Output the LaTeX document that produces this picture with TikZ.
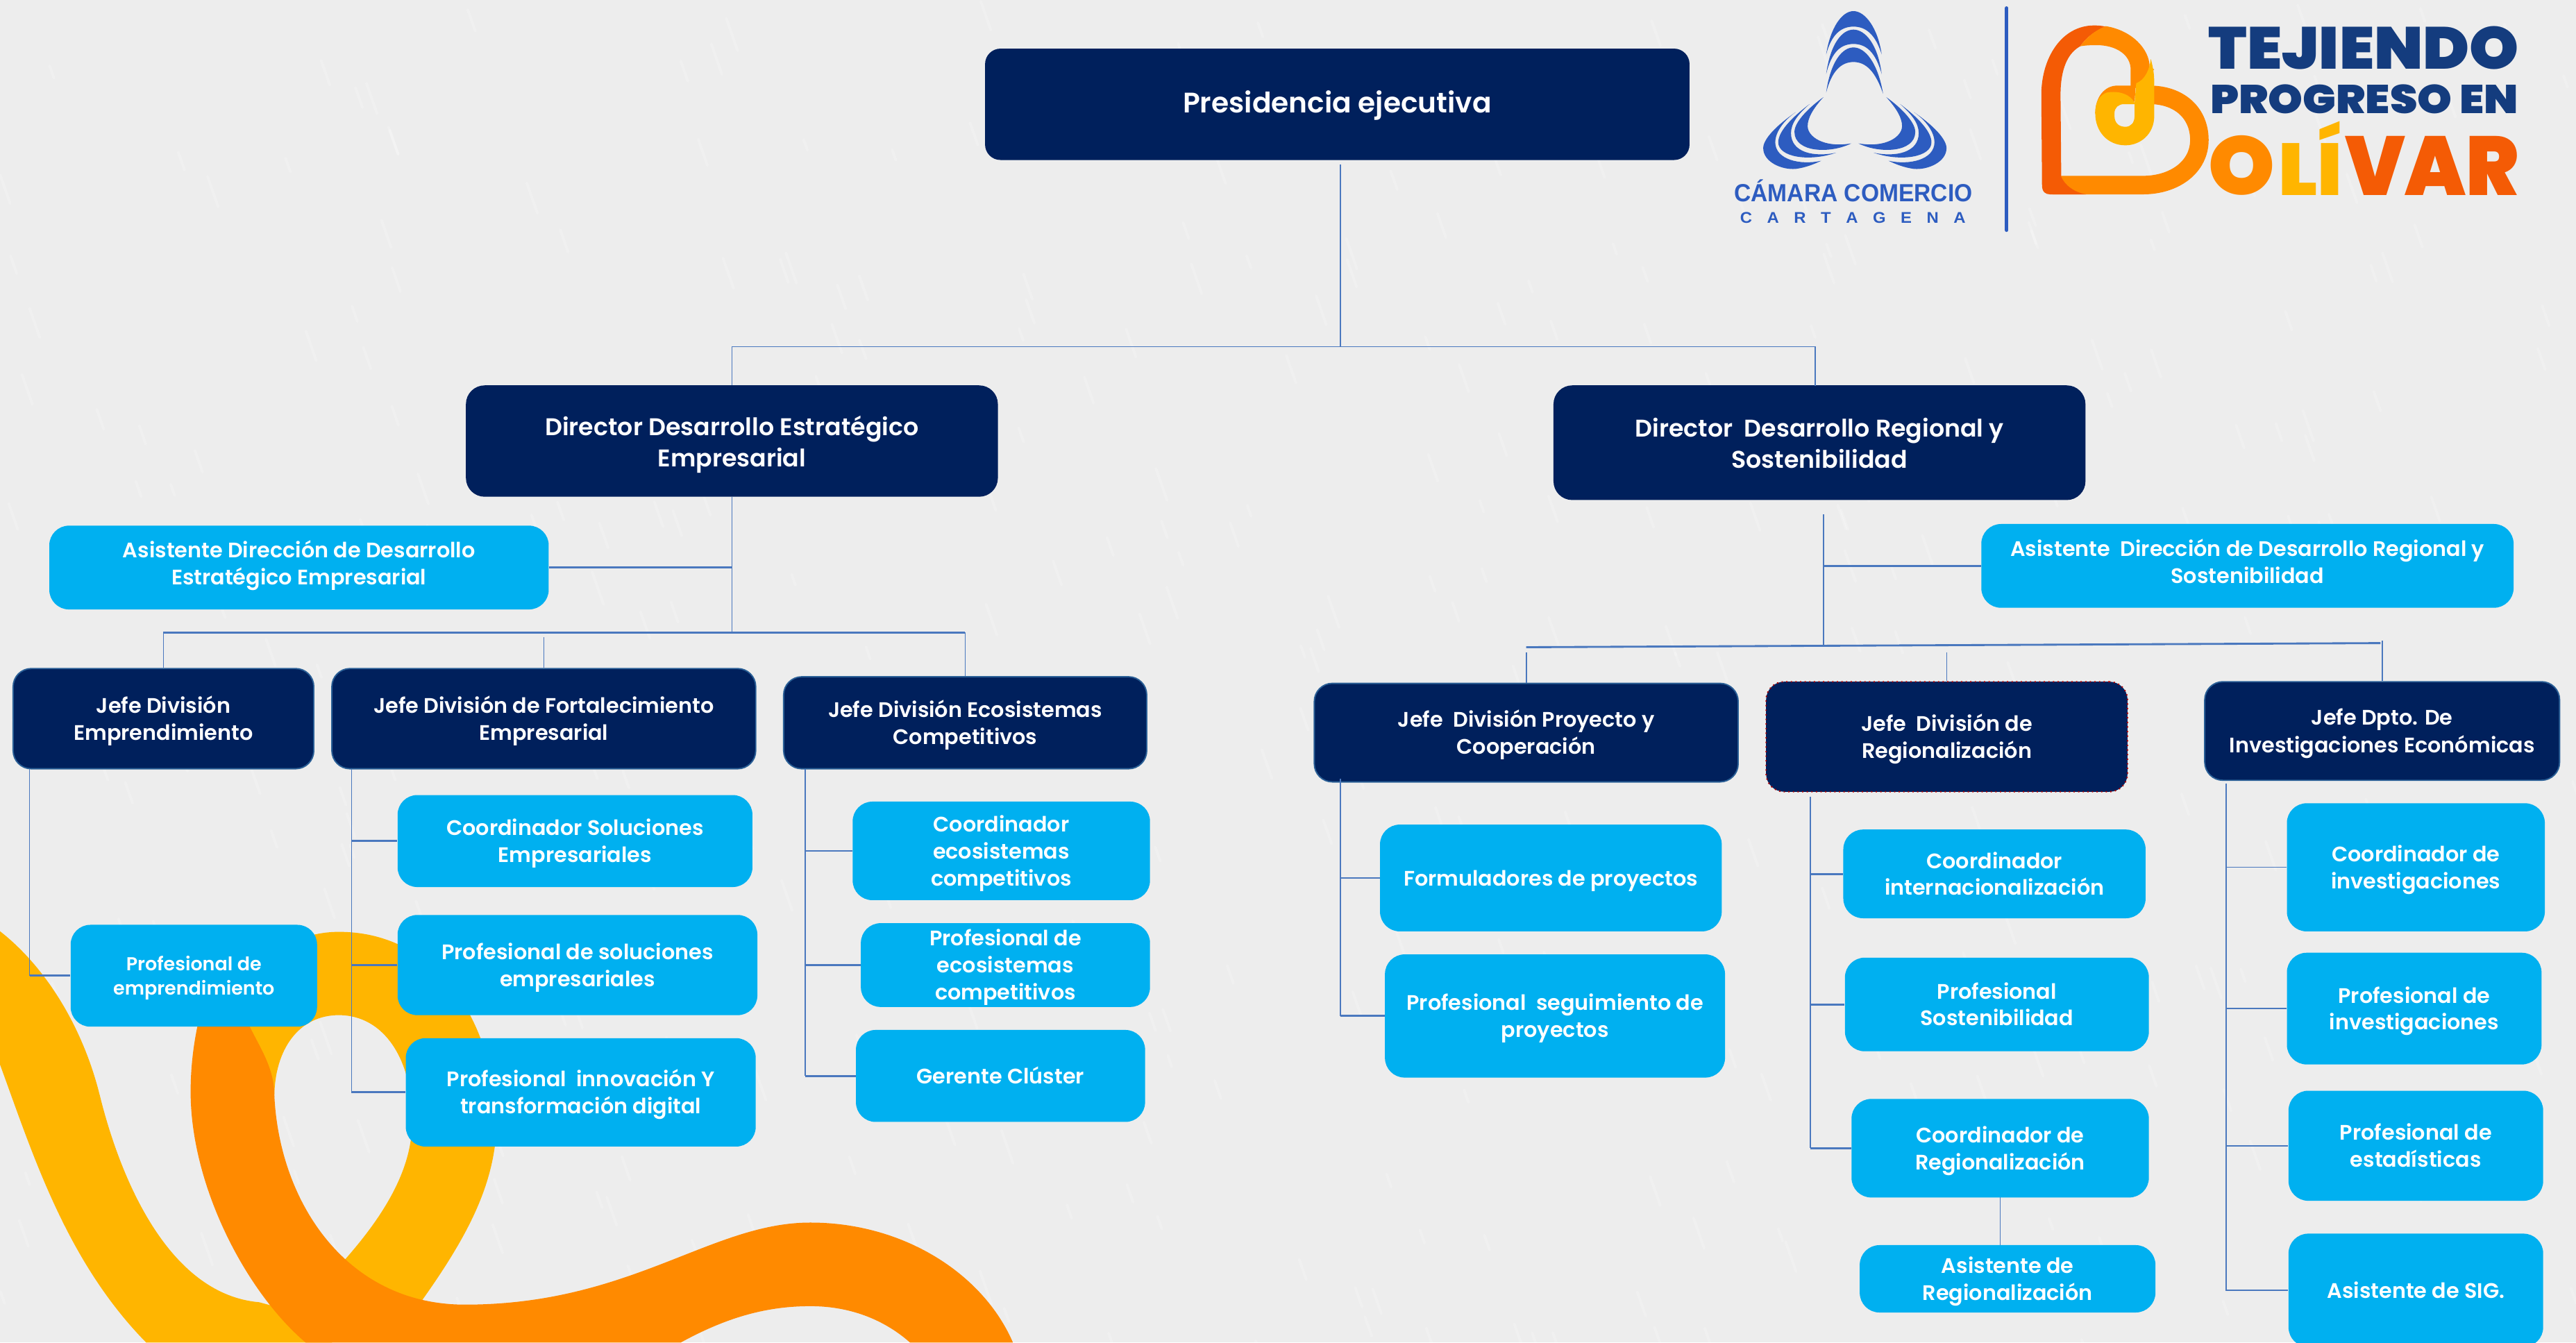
\documentclass[tikz,border=0pt]{standalone}
\usepackage{fontspec}
\setmainfont{Poppins}[UprightFont=* SemiBold,BoldFont=* Bold]
\newfontfamily\heavy{Poppins}[UprightFont=* Black]
\newfontfamily\arialb{Liberation Sans}[UprightFont=* Bold]
\definecolor{navy}{HTML}{00205C}
\definecolor{sky}{HTML}{00B0F0}
\definecolor{bgc}{HTML}{EDEDED}
\definecolor{lnk}{HTML}{4A78BE}
\definecolor{ambar}{HTML}{FFB500}
\definecolor{naran}{HTML}{FF8A00}
\definecolor{oscuro}{HTML}{F45B05}
\definecolor{logoa}{HTML}{2D5CC0}
\definecolor{tejido}{HTML}{143C7E}
\definecolor{jborde}{HTML}{2A5F96}
\tikzset{
 x=1pt,y=-1pt,
 dark/.style={rectangle,rounded corners=11pt,fill=navy,draw=jborde,line width=.8pt,text=white,inner sep=0pt,font=\fontsize{12.8}{16.6}\selectfont},
 light/.style={rectangle,rounded corners=12pt,fill=sky,text=white,inner sep=0pt,font=\fontsize{12.8}{16.4}\selectfont},
 big/.style={draw=navy,font=\fontsize{14.7}{19}\selectfont},
 huge/.style={draw=navy,rounded corners=9pt,font=\fontsize{17.2}{19}\selectfont},
 small/.style={font=\fontsize{11.4}{14.4}\selectfont},
 conn/.style={draw=lnk,line width=.7pt},
 connb/.style={draw=lnk,line width=1.2pt},
 logot/.style={inner sep=0pt,outer sep=0pt},
}
\newcommand\boxn[8][0]{%
 \node[#2,minimum width={(#6-#4)*1pt},minimum height={(#7-#5)*1pt}] (#3) at ({(#4+#6)/2},{(#5+#7)/2})
 {\raisebox{\dimexpr#1pt-0.25em-1.3pt\relax}[0pt][0pt]{\begin{tabular}{@{}c@{}}#8\end{tabular}}};}
\newcommand\kid[2]{\draw[conn] (#1) -- (#1 |- #2.west); \draw[connb] (#1 |- #2.west) -- (#2.west);}
\newcommand\kidt[2]{\draw[conn] (#1) |- (#2.west);}
% one side of the Camara logo: three crescents
\newcommand\lobeside{%
\fill[logoa] (440,420) .. controls (395,470) and (372,510) .. (372,545) .. controls (372,590) and (440,640) .. (560,620) .. controls (470,665) and (315,660) .. (315,570) .. controls (315,530) and (370,470) .. (440,420) -- cycle;
\fill[logoa] (495,660) .. controls (400,680) and (300,660) .. (300,575) .. controls (300,530) and (335,490) .. (380,450) .. controls (300,510) and (245,570) .. (245,615) .. controls (245,680) and (380,700) .. (495,660) -- cycle;
\fill[logoa] (430,695) .. controls (340,715) and (232,690) .. (232,615) .. controls (232,570) and (270,520) .. (320,485) .. controls (240,540) and (180,600) .. (180,640) .. controls (180,700) and (260,735) .. (320,730) .. controls (360,725) and (400,710) .. (430,695) -- cycle;
}
\begin{document}
\begin{tikzpicture}
\useasboundingbox (0,0) rectangle (1568,817.2);
\fill[bgc] (0,0) rectangle (1568,817.2);
% paper texture
\pgfmathsetseed{7}
\foreach \i in {1,...,420}{
  \pgfmathsetmacro\tx{rnd*1568}\pgfmathsetmacro\ty{rnd*817}\pgfmathsetmacro\tl{6+rnd*14}
  \draw[white,opacity=.22,line width=1.6pt,line cap=round] (\tx,\ty) -- ++(\tl*.35,\tl);
}
% ---------- decorative ribbons
\begin{scope}[shift={(0,528.2)},x=.4043pt,y=-.18435pt]
\fill[ambar] (0,210) .. controls (70,330) and (125,530) .. (150,750) .. controls (185,1060) and (260,1410) .. (390,1435)
  -- (500,1500) -- (500,1568) -- (220,1568) .. controls (100,1300) and (50,950) .. (0,650) -- cycle;
\fill[ambar] (635,1430) .. controls (700,1230) and (735,1080) .. (745,920) .. controls (760,600) and (680,212) .. (510,212)
  .. controls (400,212) and (320,450) .. (300,740) -- (413,760) .. controls (413,600) and (450,487) .. (510,487)
  .. controls (580,487) and (620,640) .. (620,820) .. controls (625,1000) and (570,1170) .. (515,1305) -- (480,1400) -- (620,1480) -- cycle;
\fill[naran] (330,300) .. controls (300,450) and (287,600) .. (287,740) .. controls (287,1050) and (370,1400) .. (460,1568)
  -- (1025,1568) .. controls (1090,1490) and (1150,1448) .. (1220,1448) .. controls (1285,1448) and (1335,1500) .. (1370,1568)
  -- (1525,1568) .. controls (1480,1340) and (1360,1172) .. (1220,1172) .. controls (1070,1172) and (950,1443) .. (700,1443)
  .. controls (520,1443) and (420,1100) .. (413,750) .. controls (413,660) and (390,590) .. (375,520) -- (370,300) -- cycle;
\end{scope}
% ---------- logo Camara (top lobe, two side lobes)
\begin{scope}[shift={(1047.9,0)},x=.14085pt,y=-.14085pt]
\fill[logoa] (452,235) .. controls (470,120) and (520,48) .. (570,48) .. controls (620,48) and (675,120) .. (692,235) .. controls (665,150) and (625,115) .. (570,115) .. controls (515,115) and (475,150) .. (452,235) -- cycle;
\fill[logoa] (452,320) .. controls (470,190) and (520,128) .. (570,128) .. controls (620,128) and (675,190) .. (692,320) .. controls (665,225) and (625,190) .. (570,190) .. controls (515,190) and (475,225) .. (452,320) -- cycle;
\fill[logoa] (452,400) .. controls (470,270) and (520,205) .. (570,205) .. controls (620,205) and (675,270) .. (698,405) .. controls (665,310) and (625,268) .. (570,268) .. controls (515,268) and (475,310) .. (452,400) -- cycle;
\lobeside
\begin{scope}[shift={(1152,0)},xscale=-1]\lobeside\end{scope}
\node[logot,text=logoa,anchor=north west] (camara) at (55,775) {\resizebox{145pt}{13.4pt}{\arialb CÁMARA COMERCIO}};
\node[logot,text=logoa,anchor=north west] (carta) at (80,918) {\resizebox{137.3pt}{6.6pt}{\arialb C\hspace{.9em}A\hspace{.9em}R\hspace{.9em}T\hspace{.9em}A\hspace{.9em}G\hspace{.9em}E\hspace{.9em}N\hspace{.9em}A}};
\end{scope}
% ---------- heart
\begin{scope}[shift={(1233.8,8.45)},x=.14085pt,y=-.14085pt]
\draw[naran,line width=11.27pt] (510,350) -- (530,350) .. controls (660,350) and (745,430) .. (745,545) .. controls (745,660) and (640,740) .. (500,740) -- (110,740);
\fill[oscuro] (350,57) .. controls (320,50) and (300,50) .. (290,50) .. controls (150,50) and (62,190) .. (62,350) -- (65,740) .. controls (65,770) and (80,780) .. (100,780) -- (255,780) .. controls (200,770) and (165,740) .. (148,705) -- (145,350) .. controls (145,240) and (175,170) .. (230,140) .. controls (265,90) and (310,65) .. (350,57) -- cycle;
\fill[naran] (340,53) .. controls (450,70) and (530,150) .. (530,230) -- (550,240) -- (470,320) -- (448,320) -- (448,240) .. controls (448,180) and (390,135) .. (300,135) .. controls (270,135) and (245,137) .. (230,140) .. controls (265,90) and (310,65) .. (340,53) -- cycle;
\fill[naran] (470,310) -- (390,310) .. controls (335,310) and (295,360) .. (295,430) -- (330,430) -- (345,345) -- (465,380) -- cycle;
\fill[ambar,even odd rule] (535,195) .. controls (545,230) and (550,260) .. (550,300) -- (550,440) .. controls (550,520) and (490,568) .. (425,568) .. controls (350,568) and (295,510) .. (295,430) .. controls (295,380) and (315,350) .. (345,340) .. controls (400,330) and (450,350) .. (465,385) -- (472,300) .. controls (510,285) and (530,240) .. (535,195) -- cycle
 (378,430) .. controls (378,405) and (395,390) .. (420,390) -- (465,390) -- (465,440) .. controls (465,470) and (450,488) .. (425,488) .. controls (395,488) and (378,470) .. (378,440) -- cycle;
\end{scope}
% ---------- divider and lettering
\begin{scope}[shift={(1014,0)},x=.3533pt,y=-.1408pt]
\coordinate (diva) at (587,35); \coordinate (divb) at (587,995);
\draw[logoa,line width=2.2pt,line cap=round] (diva) -- (divb);
\node[logot,text=tejido,anchor=north west] (tj) at (935,115) {\resizebox{189pt}{26pt}{\heavy TEJIENDO}};
\node[logot,text=tejido,anchor=north west] (pr) at (938,365) {\resizebox{187.5pt}{17.6pt}{\heavy PROGRESO EN}};
\node[logot,text=naran,anchor=south west] (bo) at (935,845) {\resizebox{40.5pt}{36pt}{\heavy O}};
\node[logot,text=ambar,anchor=south west] (bl) at (1055,845) {\resizebox{39pt}{45pt}{\heavy LÍ}};
\node[logot,text=oscuro,anchor=south west] (bv) at (1170,845) {\resizebox{106pt}{36pt}{\heavy VAR}};
\end{scope}
% ---------- nodes
\boxn{dark,huge}{pres}{600}{30}{1028}{97}{Presidencia ejecutiva}
\boxn[-1]{dark,big}{dirE}{284}{235}{607}{302}{Director Desarrollo Estratégico\\Empresarial}
\boxn[-1]{dark,big}{dirR}{946}{235}{1269}{304}{Director\ \ Desarrollo Regional y\\Sostenibilidad}
\boxn[2.5]{light}{asE}{30}{320}{334}{371}{Asistente Dirección de Desarrollo\\Estratégico Empresarial}
\boxn[2.5]{light}{asR}{1206}{319}{1530}{370}{Asistente\ \ Dirección de Desarrollo Regional y\\Sostenibilidad}
\boxn{dark}{jE}{8}{407}{191}{468}{Jefe División\\Emprendimiento}
\boxn{dark}{jF}{202}{407}{460}{468}{Jefe División de Fortalecimiento\\Empresarial}
\boxn{dark}{jC}{477}{412}{698}{468}{Jefe División Ecosistemas\\Competitivos}
\boxn{dark}{jP}{800}{416}{1058}{476}{Jefe\ \ División Proyecto y\\Cooperación}
\boxn{dark,draw=red!70!black,dotted}{jR}{1075}{415}{1295}{482}{Jefe\ \ División de\\Regionalización}
\boxn{dark}{jI}{1342}{415}{1558}{475}{Jefe Dpto. De\\Investigaciones Económicas}
\boxn{light,small}{pE}{43}{563}{193}{625}{Profesional de\\emprendimiento}
\boxn{light}{cS}{242}{484}{458}{540}{Coordinador Soluciones\\Empresariales}
\boxn{light}{pS}{242}{557}{461}{618}{Profesional de soluciones\\empresariales}
\boxn{light}{pN}{247}{632}{460}{698}{Profesional\ \ innovación Y\\transformación digital}
\boxn{light}{cC}{519}{488}{700}{548}{Coordinador\\ecosistemas\\competitivos}
\boxn{light}{pC}{524}{562}{700}{613}{Profesional de\\ecosistemas\\competitivos}
\boxn{light}{gC}{521}{627}{697}{683}{Gerente Clúster}
\boxn{light}{fP}{840}{502}{1048}{567}{Formuladores de proyectos}
\boxn{light}{sP}{843}{581}{1050}{656}{Profesional\ \ seguimiento de\\proyectos}
\boxn{light}{cI}{1122}{505}{1306}{559}{Coordinador\\internacionalización}
\boxn{light}{pO}{1123}{583}{1308}{640}{Profesional\\Sostenibilidad}
\boxn{light}{cR}{1127}{669}{1308}{729}{Coordinador de\\Regionalización}
\boxn{light}{aR}{1132}{758}{1312}{799}{Asistente de\\Regionalización}
\boxn{light}{cV}{1392}{489}{1549}{567}{Coordinador de\\investigaciones}
\boxn{light}{pV}{1392}{580}{1547}{648}{Profesional de\\investigaciones}
\boxn{light}{pT}{1393}{664}{1548}{731}{Profesional de\\estadísticas}
\boxn{light}{aG}{1393}{751}{1548}{820}{Asistente de SIG.}
% ---------- connectors
\coordinate (t0) at (816,100); \coordinate (t1) at (816,211); \coordinate (dRn) at (1105,235);
\draw[conn] (t0) -- (t1);
\draw[conn] (dirE.north) |- (t1) -| (dRn);
\coordinate (l1) at (445.5,385);
\draw[conn] (dirE.south) -- (l1);
\draw[connb] (asE.east) -- (asE.east -| dirE.south);
\draw[connb] (jE.north |- l1) -- (jC.north |- l1);
\draw[conn] (jE.north) -- (jE.north |- l1);
\coordinate (l2) at (331,388);
\draw[conn] (jF.north) -- (l2);
\draw[conn] (jC.north) -- (jC.north |- l1);
\coordinate (r0) at (1110,313); \coordinate (r1) at (1110,392.5);
\draw[conn] (r0) -- (r1);
\draw[connb] (r1 |- asR.west) -- (asR.west);
\coordinate (rh1) at (929,394); \coordinate (rh2) at (1449,391.5);
\draw[connb] (rh1) -- (rh2);
\coordinate (r2) at (929,397); \coordinate (r3) at (1185,397); \coordinate (r4) at (1450,390);
\draw[conn] (r2) -- (jP.north);
\draw[conn] (r3) -- (jR.north);
\draw[conn] (r4) -- (jI.north);
\coordinate (a1) at (18,468); \kid{a1}{pE}
\coordinate (a2) at (214,468); \kid{a2}{pN} \kid{a2}{cS} \kid{a2}{pS}
\coordinate (a3) at (490,468); \kid{a3}{gC} \kid{a3}{cC} \kid{a3}{pC}
\coordinate (a4) at (816,474); \kid{a4}{sP} \kid{a4}{fP}
\coordinate (a5) at (1102,485); \kid{a5}{cR} \kid{a5}{cI} \kid{a5}{pO}
\coordinate (b5) at (1217.5,729); \coordinate (c5) at (1217.5,758);
\draw[conn] (b5) -- (c5);
\coordinate (a6) at (1355,477); \kidt{a6}{aG} \kidt{a6}{cV} \kidt{a6}{pV} \kidt{a6}{pT}
\end{tikzpicture}
\end{document}
